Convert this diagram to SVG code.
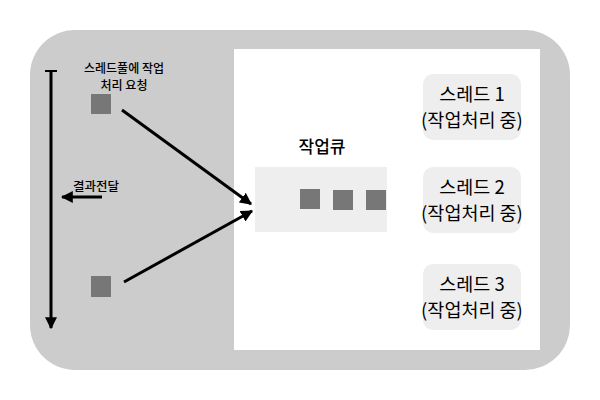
<svg xmlns="http://www.w3.org/2000/svg" width="600" height="400" viewBox="0 0 600 400">
<defs>
<marker id="ah" viewBox="0 0 10 10" refX="9" refY="5" markerWidth="4" markerHeight="4" orient="auto-start-reverse">
<path d="M0,0 L10,5 L0,10 z" fill="#000"/>
</marker>
<style>
text{font-family:"Noto Sans CJK KR","Noto Sans",sans-serif;fill:#000;text-anchor:middle;font-weight:400}
.sq{fill:#777}
.th{fill:#eee}
.ln{stroke:#000;stroke-width:3;fill:none}
.t{font-size:18.5px}
.b{font-weight:500}
</style>
</defs>
<rect x="30" y="30" width="540" height="340" rx="45" fill="#ccc"/>
<rect x="234" y="49" width="306" height="301" fill="#fff"/>
<g id="connectors">
<line class="ln" x1="51" y1="71" x2="51" y2="328" marker-end="url(#ah)"/>
<line x1="45" y1="71" x2="57" y2="71" stroke="#000" stroke-width="2"/>
<line class="ln" x1="102" y1="197" x2="62" y2="197" marker-end="url(#ah)"/>
<line class="ln" x1="122" y1="110" x2="251" y2="204" marker-end="url(#ah)"/>
<line class="ln" x1="124" y1="282" x2="252" y2="211" marker-end="url(#ah)"/>
</g>
<g id="request">
<text class="b" x="124" y="73" font-size="12">스레드풀에 작업</text>
<text class="b" x="124" y="90" font-size="12">처리 요청</text>
<rect class="sq" x="91" y="94" width="20" height="20"/>
</g>
<g id="request2"><rect class="sq" x="91" y="276" width="20" height="21"/></g>
<g id="result"><text class="b" x="96" y="191" font-size="12.5">결과전달</text></g>
<g id="queue">
<text class="b" x="322" y="153" font-size="17">작업큐</text>
<rect x="255" y="167" width="132" height="65" fill="#eee"/>
<rect class="sq" x="300" y="189" width="20" height="20"/>
<rect class="sq" x="333" y="190" width="20" height="20"/>
<rect class="sq" x="366" y="190" width="20" height="20"/>
</g>
<g id="thread1">
<rect class="th" x="423" y="74" width="98" height="66" rx="10"/>
<text class="t" x="472" y="101">스레드 1</text>
<text class="t" x="472" y="127">(작업처리 중)</text>
</g>
<g id="thread2">
<rect class="th" x="423" y="167" width="98" height="66" rx="10"/>
<text class="t" x="472" y="194">스레드 2</text>
<text class="t" x="472" y="220">(작업처리 중)</text>
</g>
<g id="thread3">
<rect class="th" x="423" y="264" width="98" height="66" rx="10"/>
<text class="t" x="472" y="291">스레드 3</text>
<text class="t" x="472" y="317">(작업처리 중)</text>
</g>
</svg>
